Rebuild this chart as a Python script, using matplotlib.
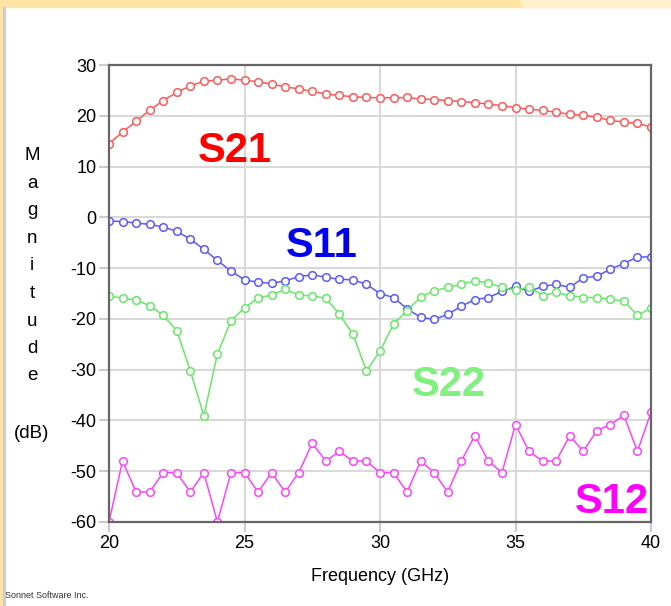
import matplotlib.pyplot as plt
import numpy as np
from matplotlib.patches import Rectangle, Polygon

# Frequency sweep (GHz), one point every 0.5 GHz
freq = np.arange(20, 40.01, 0.5)

s21 = [14.5, 16.8, 18.9, 21.1, 23.0, 24.6, 25.9, 26.8, 27.0, 27.3,
       27.0, 26.7, 26.25, 25.7, 25.3, 24.8, 24.3, 24.0, 23.75, 23.6,
       23.55, 23.55, 23.6, 23.3, 23.2, 23.0, 22.8, 22.6, 22.3, 22.0,
       21.6, 21.3, 21.05, 20.7, 20.3, 20.1, 19.7, 19.1, 18.75, 18.5, 17.8]
s11 = [-0.7, -0.85, -1.1, -1.4, -1.9, -2.75, -4.3, -6.3, -8.5, -10.6,
       -12.3, -12.8, -13.0, -12.5, -11.7, -11.3, -11.8, -12.2, -12.3, -13.2,
       -15.0, -15.8, -18.0, -19.7, -20.1, -19.1, -17.5, -16.2, -15.8, -14.6,
       -13.6, -14.6, -13.6, -13.2, -13.8, -11.9, -11.6, -10.2, -9.1, -7.8, -7.8]
s22 = [-15.5, -15.9, -16.3, -17.4, -19.3, -22.3, -30.2, -39.1, -26.9, -20.4,
       -17.8, -15.9, -15.3, -14.2, -15.3, -15.5, -15.9, -19.1, -23.0, -30.2,
       -26.4, -21.0, -18.4, -15.7, -14.5, -13.8, -13.2, -12.5, -12.9, -13.8,
       -14.4, -13.7, -15.4, -14.8, -15.4, -15.8, -15.8, -16.1, -16.5, -19.3, -17.9]
s12 = [-60.0, -48.0, -54.1, -54.1, -50.3, -50.3, -54.1, -50.3, -60.0, -50.3,
       -50.3, -54.1, -50.3, -54.1, -50.3, -44.5, -48.0, -46.1, -48.0, -48.0,
       -50.3, -50.3, -54.1, -48.0, -50.3, -54.1, -48.0, -43.0, -48.0, -50.3,
       -40.8, -46.1, -48.0, -48.0, -43.0, -46.1, -42.0, -40.8, -39.0, -46.1, -38.4]

series = [("S21", s21, "#ff5a5a", "#ff0000", (24.65, 13.0)),
          ("S11", s11, "#5a5aff", "#0000ee", (27.85, -5.7)),
          ("S22", s22, "#66e866", "#80f080", (32.55, -33.1)),
          ("S12", s12, "#ff44ff", "#ff00ff", (38.55, -56.0))]

yticks = np.arange(-60, 31, 10)
xticks = [20, 25, 30, 35, 40]

plt.rcParams['font.family'] = ['Liberation Sans', 'DejaVu Sans']
plt.rcParams['axes.unicode_minus'] = False

fig = plt.figure(figsize=(6.71, 6.06), dpi=100)
ax = fig.add_axes([109 / 671, 1 - 522 / 606, 542 / 671, 457 / 606])

for name, vals, lc, tc, pos in series:
    ax.plot(freq, vals, '-', color=lc, lw=1.1, marker='o', ms=5.5,
            mfc='white', mec=lc, mew=1.1, clip_on=True)
    ax.text(pos[0], pos[1], name, color=tc, fontsize=30, fontweight='bold',
            ha='center', va='center')

ax.set_xlim(20, 40)
ax.set_ylim(-60, 30)
ax.set_xticks(xticks)
ax.set_yticks(yticks)
ax.tick_params(labelsize=13, length=7, color='#cccccc', width=1.5, pad=2)
ax.grid(True, color='#d9d9d9', lw=1.5)
ax.set_axisbelow(True)
for side in ['left', 'bottom', 'top', 'right']:
    ax.spines[side].set_color('#666666')
    ax.spines[side].set_linewidth(1.6)

ax.set_xlabel('Frequency (GHz)', fontsize=13, labelpad=12)

# stacked y label letters
for i, ch in enumerate("Magnitude"):
    fig.text(32 / 671, 1 - (156 + i * 27.5) / 606, ch, fontsize=13.5,
             ha='center', va='center')
fig.text(32 / 671, 1 - 433 / 606, "(dB)", fontsize=13.5, ha='center', va='center')
fig.text(5 / 671, 1 - 595 / 606, "Sonnet Software Inc.", fontsize=6.5,
         color='#333333', ha='left', va='center')

# window frame decoration
fig.patches.append(Rectangle((0, 1 - 7 / 606), 1, 7 / 606, transform=fig.transFigure,
                             color='#ffe4a3', zorder=0))
fig.patches.append(Polygon([(520 / 671, 1), (1, 1), (1, 1 - 7 / 606), (523 / 671, 1 - 7 / 606)],
                           closed=True, transform=fig.transFigure, color='#fff0cc', zorder=0))
fig.patches.append(Rectangle((0, 0), 3 / 671, 1, transform=fig.transFigure,
                             color='#ffe4a3', zorder=0))
fig.patches.append(Rectangle((3 / 671, 0), 1.5 / 671, 1 - 7 / 606, transform=fig.transFigure,
                             color='#cfcfcf', zorder=0))

fig.savefig('out.png', dpi=100)
